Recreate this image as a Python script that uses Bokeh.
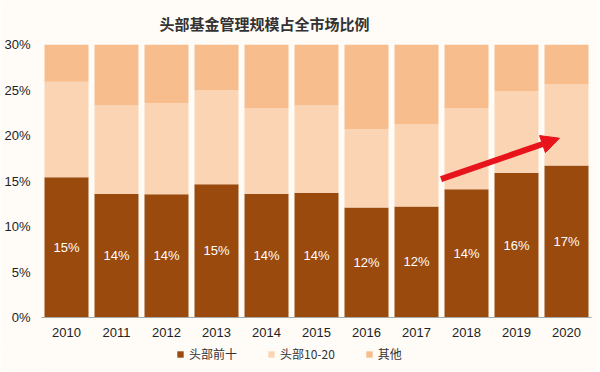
from bokeh.plotting import figure
from bokeh.layouts import column
from bokeh.models import (Range1d, FixedTicker, Legend, LegendItem, Arrow,
                          NormalHead, ColumnDataSource, PrintfTickFormatter)
from bokeh.embed import file_html
from bokeh.resources import INLINE
from bokeh.core.properties import value

years = ["2010", "2011", "2012", "2013", "2014", "2015", "2016", "2017", "2018", "2019", "2020"]
top10 = [15.4, 13.6, 13.55, 14.65, 13.6, 13.7, 12.1, 12.2, 14.1, 15.9, 16.7]
top10_20 = [10.5, 9.7, 10.0, 10.35, 9.4, 9.6, 8.6, 9.0, 8.9, 9.0, 8.9]
others = [4.1, 6.7, 6.45, 5.0, 7.0, 6.7, 9.3, 8.8, 7.0, 5.1, 4.4]
bar_labels = ["15%", "14%", "14%", "15%", "14%", "14%", "12%", "12%", "14%", "16%", "17%"]
y_ticks = [0, 5, 10, 15, 20, 25, 30]
series_names = ["头部前十", "头部10-20", "其他"]
colors = ["#9A4A0C", "#FBD4B4", "#F8BD8D"]

BG = "#FFFCF8"
xs = list(range(len(years)))
src = ColumnDataSource(dict(x=xs, top10=top10, mid=top10_20, other=others,
                            lab=bar_labels, laby=[v / 2 for v in top10]))

p = figure(frame_width=550, frame_height=273, output_backend="svg", toolbar_location=None,
           x_range=Range1d(-0.5, len(years) - 0.5), y_range=Range1d(0, 30),
           min_border_left=41, min_border_right=6, min_border_top=43, min_border_bottom=27,
           background_fill_color=BG, border_fill_color=BG, outline_line_color=None,
           title="头部基金管理规模占全市场比例")

p.title.align = "left"
p.title.offset = 118
p.title.standoff = 21
p.title.text_font = "Noto Sans CJK SC"
p.title.text_font_size = "15px"
p.title.text_font_style = "bold"
p.title.text_color = "#333333"

rs = p.vbar_stack(["top10", "mid", "other"], x="x", width=0.88, source=src,
                  color=colors, line_color=None)

p.text(x="x", y="laby", text="lab", source=src, text_color="white",
       text_font=value("Liberation Sans"), text_font_size="13px",
       text_align="center", text_baseline="middle")

p.xgrid.visible = False
p.ygrid.visible = False

p.yaxis.ticker = FixedTicker(ticks=y_ticks)
p.yaxis.formatter = PrintfTickFormatter(format="%d%%")
p.yaxis.axis_line_color = None
p.yaxis.major_tick_line_color = None
p.yaxis.minor_tick_line_color = None
p.yaxis.major_tick_out = 0
p.yaxis.major_tick_in = 0
p.yaxis.minor_tick_out = 0
p.yaxis.major_label_standoff = 11
p.yaxis.major_label_text_font = "Liberation Sans"
p.yaxis.major_label_text_font_size = "13px"
p.yaxis.major_label_text_color = "#222222"

p.xaxis.ticker = FixedTicker(ticks=xs)
p.xaxis.major_label_overrides = {i: y for i, y in zip(xs, years)}
p.xaxis.axis_line_color = "#A8A8A8"
p.xaxis.major_tick_line_color = None
p.xaxis.minor_tick_line_color = None
p.xaxis.major_tick_out = 0
p.xaxis.major_tick_in = 0
p.xaxis.minor_tick_out = 0
p.xaxis.major_label_standoff = 10
p.xaxis.major_label_text_font = "Liberation Sans"
p.xaxis.major_label_text_font_size = "13px"
p.xaxis.major_label_text_color = "#222222"

arrow = Arrow(x_start=7.49, y_start=15.2, x_end=9.86, y_end=19.7,
              line_color="#E8141B", line_width=6,
              end=NormalHead(size=18, fill_color="#E8141B", line_color="#E8141B"))
p.add_layout(arrow)

# legend strip below the chart (swatch renderers are zero-height, so invisible)
lg = figure(width=597, height=28, output_backend="svg", toolbar_location=None,
            x_range=Range1d(0, 1), y_range=Range1d(0, 1),
            min_border_left=0, min_border_right=0, min_border_top=0, min_border_bottom=0,
            background_fill_color=BG, border_fill_color=BG, outline_line_color=None)
lg.axis.visible = False
lg.xgrid.visible = False
lg.ygrid.visible = False
swatches = [lg.vbar(x=[0.5], top=[0], width=0.01, color=c, line_color=None) for c in colors]
legend = Legend(items=[LegendItem(label=n, renderers=[r]) for n, r in zip(series_names, swatches)],
                location=(135, 10), orientation="horizontal",
                label_text_font="Noto Sans CJK SC", label_text_font_size="12px",
                label_text_color="#333333", glyph_width=8, glyph_height=8,
                label_standoff=5, spacing=30, padding=0, margin=0,
                border_line_color=None, background_fill_alpha=0)
lg.add_layout(legend, "center")

layout = column(p, lg, spacing=0)
open("out.html", "w").write(file_html(layout, INLINE))
